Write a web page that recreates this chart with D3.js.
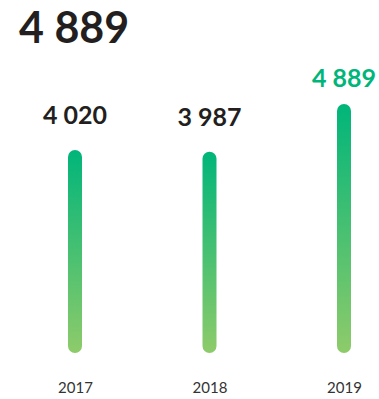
<!DOCTYPE html>
<html>
<head>
<meta charset="utf-8">
<script src="https://cdn.jsdelivr.net/npm/d3@7"></script>
<style>
  body { margin: 0; background: #fff; }
  text { font-family: Lato, "Open Sans", sans-serif; }
</style>
</head>
<body>
<div id="chart"></div>
<script>
(function() {
    // Data
    var years = ["2017", "2018", "2019"];
    var values = [4020, 3987, 4889];
    var valueLabels = ["4 020", "3 987", "4 889"];
    var totalLabel = "4 889";

    var width = 379, height = 399,
        barWidth = 14,
        baseY = 353, topY = 104;

    var svg = d3.select("#chart")
        .append("svg")
        .attr("width", width)
        .attr("height", height);

    // Gradient for the bars
    var grad = svg.append("defs").append("linearGradient")
        .attr("id", "barGrad")
        .attr("x1", 0).attr("y1", 0)
        .attr("x2", 0).attr("y2", 1);
    grad.append("stop").attr("offset", "0%").attr("stop-color", "#00b57a");
    grad.append("stop").attr("offset", "100%").attr("stop-color", "#8ecb6a");

    // Scales
    var xScale = d3.scalePoint()
        .domain(years)
        .range([75, 344]);

    var yScale = d3.scaleLinear()
        .domain([180, d3.max(values)])
        .range([baseY, topY]);

    // Title
    svg.append("text")
        .attr("x", 19)
        .attr("y", 43)
        .attr("font-size", 43)
        .attr("font-weight", 700)
        .attr("fill", "#231f20")
        .text(totalLabel);

    // Bars
    svg.selectAll(".bar")
        .data(values)
        .enter().append("rect")
        .attr("class", "bar")
        .attr("x", function(d, i) { return xScale(years[i]) - barWidth / 2; })
        .attr("y", function(d) { return yScale(d); })
        .attr("width", barWidth)
        .attr("height", function(d) { return baseY - yScale(d); })
        .attr("rx", barWidth / 2)
        .attr("fill", "url(#barGrad)");

    // Value labels (the top one is held below the title)
    svg.selectAll(".value")
        .data(values)
        .enter().append("text")
        .attr("class", "value")
        .attr("x", function(d, i) { return xScale(years[i]); })
        .attr("y", function(d) { return Math.max(yScale(d) - 26, 87); })
        .attr("text-anchor", "middle")
        .attr("font-size", 25)
        .attr("font-weight", 700)
        .attr("fill", function(d, i) { return i === values.length - 1 ? "#00b57a" : "#231f20"; })
        .text(function(d, i) { return valueLabels[i]; });

    // Year axis
    var xAxis = d3.axisBottom(xScale).tickSize(0).tickPadding(0);
    var axisG = svg.append("g")
        .attr("transform", "translate(0,382)")
        .call(xAxis);
    axisG.select(".domain").remove();
    axisG.selectAll("text")
        .attr("font-size", 15)
        .attr("font-family", "Lato, 'Open Sans', sans-serif")
        .attr("fill", "#333");
})();
</script>
</body>
</html>
